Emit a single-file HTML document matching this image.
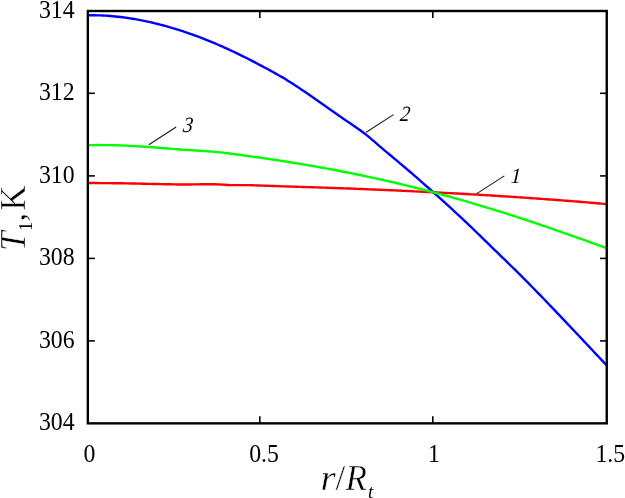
<!DOCTYPE html>
<html><head><meta charset="utf-8"><title>chart</title>
<style>
html,body{margin:0;padding:0;background:#fff;}
body{width:625px;height:498px;overflow:hidden;}
svg{display:block;will-change:transform;}
text{font-family:"Liberation Serif",serif;fill:#000;}
.it{font-style:italic;}
</style></head><body>
<svg width="625" height="498" viewBox="0 0 625 498">
<rect x="0" y="0" width="625" height="498" fill="#fff"/>
<defs><clipPath id="c"><rect x="87.85" y="11.0" width="518.9" height="412.35"/></clipPath></defs>
<g clip-path="url(#c)" fill="none" stroke-width="2.4" stroke-linejoin="round" stroke-linecap="butt">
<path d="M87.85 183.00 L90.34 183.01 L92.84 183.03 L95.33 183.04 L97.83 183.06 L100.32 183.08 L102.82 183.10 L105.31 183.11 L107.81 183.13 L110.30 183.15 L112.80 183.18 L115.29 183.20 L117.79 183.22 L120.28 183.25 L122.78 183.30 L125.27 183.35 L127.77 183.40 L130.26 183.45 L132.75 183.50 L135.25 183.55 L137.74 183.61 L140.24 183.66 L142.73 183.72 L145.23 183.77 L147.72 183.83 L150.22 183.88 L152.71 183.93 L155.21 183.98 L157.70 184.03 L160.20 184.08 L162.69 184.13 L165.19 184.19 L167.68 184.24 L170.18 184.29 L172.67 184.35 L175.16 184.40 L177.66 184.46 L180.15 184.51 L182.65 184.55 L185.14 184.51 L187.64 184.48 L190.13 184.44 L192.63 184.41 L195.12 184.38 L197.62 184.34 L200.11 184.31 L202.61 184.28 L205.10 184.25 L207.60 184.22 L210.09 184.19 L212.59 184.17 L215.08 184.21 L217.57 184.36 L220.07 184.50 L222.56 184.65 L225.06 184.80 L227.55 184.95 L230.05 185.09 L232.54 185.10 L235.04 185.11 L237.53 185.11 L240.03 185.12 L242.52 185.13 L245.02 185.14 L247.51 185.15 L250.01 185.16 L252.50 185.25 L255.00 185.34 L257.49 185.43 L259.99 185.52 L262.48 185.61 L264.97 185.70 L267.47 185.79 L269.96 185.88 L272.46 185.98 L274.95 186.07 L277.45 186.16 L279.94 186.26 L282.44 186.33 L284.93 186.40 L287.43 186.48 L289.92 186.55 L292.42 186.63 L294.91 186.70 L297.41 186.78 L299.90 186.85 L302.40 186.93 L304.89 187.01 L307.38 187.09 L309.88 187.17 L312.37 187.25 L314.87 187.33 L317.36 187.42 L319.86 187.50 L322.35 187.58 L324.85 187.67 L327.34 187.76 L329.84 187.84 L332.33 187.93 L334.83 188.02 L337.32 188.11 L339.82 188.20 L342.31 188.29 L344.81 188.38 L347.30 188.48 L349.79 188.57 L352.29 188.66 L354.78 188.76 L357.28 188.86 L359.77 188.95 L362.27 189.05 L364.76 189.15 L367.26 189.25 L369.75 189.35 L372.25 189.46 L374.74 189.56 L377.24 189.66 L379.73 189.77 L382.23 189.87 L384.72 189.98 L387.22 190.09 L389.71 190.20 L392.20 190.31 L394.70 190.42 L397.19 190.53 L399.69 190.64 L402.18 190.75 L404.68 190.87 L407.17 190.98 L409.67 191.10 L412.16 191.22 L414.66 191.34 L417.15 191.46 L419.65 191.58 L422.14 191.70 L424.64 191.82 L427.13 191.95 L429.63 192.07 L432.12 192.20 L434.61 192.32 L437.11 192.45 L439.60 192.58 L442.10 192.71 L444.59 192.84 L447.09 192.97 L449.58 193.11 L452.08 193.24 L454.57 193.38 L457.07 193.52 L459.56 193.65 L462.06 193.79 L464.55 193.93 L467.05 194.07 L469.54 194.22 L472.04 194.36 L474.53 194.51 L477.02 194.65 L479.52 194.80 L482.01 194.95 L484.51 195.10 L487.00 195.25 L489.50 195.40 L491.99 195.55 L494.49 195.71 L496.98 195.86 L499.48 196.02 L501.97 196.18 L504.47 196.34 L506.96 196.50 L509.46 196.66 L511.95 196.83 L514.45 196.99 L516.94 197.16 L519.44 197.33 L521.93 197.49 L524.42 197.66 L526.92 197.84 L529.41 198.01 L531.91 198.18 L534.40 198.36 L536.90 198.54 L539.39 198.71 L541.89 198.89 L544.38 199.08 L546.88 199.26 L549.37 199.44 L551.87 199.63 L554.36 199.81 L556.86 200.00 L559.35 200.19 L561.85 200.38 L564.34 200.58 L566.83 200.77 L569.33 200.97 L571.82 201.16 L574.32 201.36 L576.81 201.56 L579.31 201.77 L581.80 201.97 L584.30 202.17 L586.79 202.38 L589.29 202.59 L591.78 202.80 L594.28 203.01 L596.77 203.22 L599.27 203.44 L601.76 203.65 L604.26 203.87 L606.75 204.09" stroke="#ff0000"/>
<path d="M87.85 15.27 L90.34 15.25 L92.84 15.25 L95.33 15.28 L97.83 15.34 L100.32 15.42 L102.82 15.53 L105.31 15.66 L107.81 15.82 L110.30 16.01 L112.80 16.22 L115.29 16.45 L117.79 16.71 L120.28 16.99 L122.78 17.30 L125.27 17.63 L127.77 17.98 L130.26 18.36 L132.75 18.76 L135.25 19.18 L137.74 19.62 L140.24 20.09 L142.73 20.58 L145.23 21.09 L147.72 21.62 L150.22 22.18 L152.71 22.75 L155.21 23.35 L157.70 23.96 L160.20 24.60 L162.69 25.26 L165.19 25.93 L167.68 26.63 L170.18 27.35 L172.67 28.08 L175.16 28.84 L177.66 29.62 L180.15 30.41 L182.65 31.22 L185.14 32.06 L187.64 32.91 L190.13 33.78 L192.63 34.66 L195.12 35.57 L197.62 36.49 L200.11 37.43 L202.61 38.39 L205.10 39.37 L207.60 40.36 L210.09 41.38 L212.59 42.41 L215.08 43.45 L217.57 44.51 L220.07 45.59 L222.56 46.69 L225.06 47.80 L227.55 48.93 L230.05 50.08 L232.54 51.24 L235.04 52.42 L237.53 53.61 L240.03 54.82 L242.52 56.05 L245.02 57.29 L247.51 58.55 L250.01 59.82 L252.50 61.11 L255.00 62.41 L257.49 63.73 L259.99 65.07 L262.48 66.38 L264.97 67.70 L267.47 69.04 L269.96 70.40 L272.46 71.76 L274.95 73.15 L277.45 74.55 L279.94 75.96 L282.44 77.39 L284.93 78.83 L287.43 80.40 L289.92 81.98 L292.42 83.59 L294.91 85.20 L297.41 86.83 L299.90 88.47 L302.40 90.13 L304.89 91.80 L307.38 93.49 L309.88 95.18 L312.37 96.93 L314.87 98.72 L317.36 100.52 L319.86 102.33 L322.35 104.04 L324.85 105.76 L327.34 107.49 L329.84 109.23 L332.33 110.98 L334.83 112.75 L337.32 114.53 L339.82 116.33 L342.31 118.01 L344.81 119.69 L347.30 121.38 L349.79 123.09 L352.29 124.80 L354.78 126.52 L357.28 128.25 L359.77 130.02 L362.27 131.81 L364.76 133.67 L367.26 135.65 L369.75 137.65 L372.25 139.79 L374.74 141.95 L377.24 144.12 L379.73 146.29 L382.23 148.47 L384.72 150.62 L387.22 152.66 L389.71 154.71 L392.20 156.78 L394.70 158.86 L397.19 160.95 L399.69 163.05 L402.18 165.15 L404.68 167.25 L407.17 169.37 L409.67 171.51 L412.16 173.65 L414.66 175.80 L417.15 177.97 L419.65 180.14 L422.14 182.33 L424.64 184.53 L427.13 186.73 L429.63 188.95 L432.12 191.18 L434.61 193.43 L437.11 195.65 L439.60 197.89 L442.10 200.14 L444.59 202.39 L447.09 204.66 L449.58 206.93 L452.08 209.22 L454.57 211.52 L457.07 213.82 L459.56 216.14 L462.06 218.48 L464.55 220.84 L467.05 223.20 L469.54 225.58 L472.04 227.96 L474.53 230.36 L477.02 232.76 L479.52 235.17 L482.01 237.59 L484.51 240.02 L487.00 242.46 L489.50 244.90 L491.99 247.36 L494.49 249.82 L496.98 252.23 L499.48 254.63 L501.97 257.03 L504.47 259.45 L506.96 261.87 L509.46 264.30 L511.95 266.74 L514.45 269.18 L516.94 271.63 L519.44 274.09 L521.93 276.60 L524.42 279.12 L526.92 281.64 L529.41 284.18 L531.91 286.72 L534.40 289.26 L536.90 291.82 L539.39 294.37 L541.89 296.94 L544.38 299.50 L546.88 302.10 L549.37 304.71 L551.87 307.32 L554.36 309.93 L556.86 312.55 L559.35 315.18 L561.85 317.81 L564.34 320.44 L566.83 323.07 L569.33 325.71 L571.82 328.35 L574.32 330.99 L576.81 333.64 L579.31 336.29 L581.80 338.94 L584.30 341.59 L586.79 344.24 L589.29 346.90 L591.78 349.55 L594.28 352.21 L596.77 354.86 L599.27 357.52 L601.76 360.18 L604.26 362.83 L606.75 365.49" stroke="#0000ff"/>
<path d="M87.85 145.14 L90.34 145.11 L92.84 145.09 L95.33 145.08 L97.83 145.07 L100.32 145.07 L102.82 145.08 L105.31 145.10 L107.81 145.13 L110.30 145.16 L112.80 145.21 L115.29 145.25 L117.79 145.31 L120.28 145.38 L122.78 145.49 L125.27 145.61 L127.77 145.74 L130.26 145.87 L132.75 146.01 L135.25 146.15 L137.74 146.30 L140.24 146.46 L142.73 146.63 L145.23 146.80 L147.72 146.97 L150.22 147.15 L152.71 147.32 L155.21 147.50 L157.70 147.68 L160.20 147.87 L162.69 148.06 L165.19 148.26 L167.68 148.46 L170.18 148.67 L172.67 148.88 L175.16 149.10 L177.66 149.32 L180.15 149.55 L182.65 149.76 L185.14 149.89 L187.64 150.02 L190.13 150.16 L192.63 150.30 L195.12 150.45 L197.62 150.61 L200.11 150.76 L202.61 150.93 L205.10 151.09 L207.60 151.26 L210.09 151.44 L212.59 151.62 L215.08 151.84 L217.57 152.12 L220.07 152.40 L222.56 152.68 L225.06 152.97 L227.55 153.26 L230.05 153.55 L232.54 153.88 L235.04 154.21 L237.53 154.54 L240.03 154.88 L242.52 155.22 L245.02 155.57 L247.51 155.92 L250.01 156.27 L252.50 156.61 L255.00 156.96 L257.49 157.31 L259.99 157.66 L262.48 158.02 L264.97 158.39 L267.47 158.75 L269.96 159.12 L272.46 159.50 L274.95 159.88 L277.45 160.26 L279.94 160.64 L282.44 161.03 L284.93 161.41 L287.43 161.80 L289.92 162.20 L292.42 162.60 L294.91 163.00 L297.41 163.41 L299.90 163.82 L302.40 164.24 L304.89 164.66 L307.38 165.08 L309.88 165.51 L312.37 165.94 L314.87 166.38 L317.36 166.82 L319.86 167.26 L322.35 167.71 L324.85 168.17 L327.34 168.62 L329.84 169.09 L332.33 169.55 L334.83 170.02 L337.32 170.50 L339.82 170.98 L342.31 171.46 L344.81 171.95 L347.30 172.45 L349.79 172.94 L352.29 173.44 L354.78 173.95 L357.28 174.46 L359.77 174.98 L362.27 175.50 L364.76 176.02 L367.26 176.55 L369.75 177.09 L372.25 177.62 L374.74 178.17 L377.24 178.71 L379.73 179.27 L382.23 179.82 L384.72 180.39 L387.22 180.95 L389.71 181.52 L392.20 182.10 L394.70 182.68 L397.19 183.26 L399.69 183.85 L402.18 184.45 L404.68 185.05 L407.17 185.65 L409.67 186.26 L412.16 186.88 L414.66 187.50 L417.15 188.12 L419.65 188.75 L422.14 189.38 L424.64 190.02 L427.13 190.66 L429.63 191.31 L432.12 191.96 L434.61 192.62 L437.11 193.28 L439.60 193.95 L442.10 194.62 L444.59 195.30 L447.09 195.98 L449.58 196.67 L452.08 197.36 L454.57 198.06 L457.07 198.76 L459.56 199.47 L462.06 200.18 L464.55 200.89 L467.05 201.61 L469.54 202.34 L472.04 203.07 L474.53 203.80 L477.02 204.54 L479.52 205.28 L482.01 206.03 L484.51 206.79 L487.00 207.54 L489.50 208.30 L491.99 209.07 L494.49 209.84 L496.98 210.62 L499.48 211.40 L501.97 212.18 L504.47 212.97 L506.96 213.76 L509.46 214.56 L511.95 215.36 L514.45 216.17 L516.94 216.97 L519.44 217.79 L521.93 218.60 L524.42 219.43 L526.92 220.25 L529.41 221.08 L531.91 221.91 L534.40 222.75 L536.90 223.59 L539.39 224.43 L541.89 225.28 L544.38 226.13 L546.88 226.98 L549.37 227.84 L551.87 228.69 L554.36 229.56 L556.86 230.42 L559.35 231.29 L561.85 232.16 L564.34 233.03 L566.83 233.91 L569.33 234.79 L571.82 235.67 L574.32 236.55 L576.81 237.44 L579.31 238.32 L581.80 239.21 L584.30 240.10 L586.79 240.99 L589.29 241.89 L591.78 242.78 L594.28 243.68 L596.77 244.57 L599.27 245.47 L601.76 246.37 L604.26 247.27 L606.75 248.17" stroke="#00ff00"/>
</g>
<g stroke="#000" stroke-width="1.6"><line x1="259.85" y1="423.35" x2="259.85" y2="416.25"/><line x1="259.85" y1="11.00" x2="259.85" y2="18.00"/><line x1="432.80" y1="423.35" x2="432.80" y2="416.25"/><line x1="432.80" y1="11.00" x2="432.80" y2="18.00"/><line x1="87.85" y1="93.30" x2="94.85" y2="93.30"/><line x1="606.75" y1="93.30" x2="600.05" y2="93.30"/><line x1="87.85" y1="175.90" x2="94.85" y2="175.90"/><line x1="606.75" y1="175.90" x2="600.05" y2="175.90"/><line x1="87.85" y1="258.40" x2="94.85" y2="258.40"/><line x1="606.75" y1="258.40" x2="600.05" y2="258.40"/><line x1="87.85" y1="340.90" x2="94.85" y2="340.90"/><line x1="606.75" y1="340.90" x2="600.05" y2="340.90"/></g>
<rect x="87.85" y="11.0" width="518.9" height="412.35" fill="none" stroke="#000" stroke-width="2.4"/>
<g stroke="#1a1a1a" stroke-width="1.1" stroke-linecap="round">
<line x1="149.2" y1="144.5" x2="175.8" y2="127.2"/>
<line x1="366.2" y1="132.2" x2="393.1" y2="114.9"/>
<line x1="476.8" y1="193.6" x2="503.9" y2="176.1"/>
</g>
<g class="it" font-size="21.8">
<text transform="translate(182.4 132.0) skewX(-7) scale(0.9 1)">3</text>
<text transform="translate(399.6 121.0) skewX(-7) scale(0.9 1)">2</text>
<text transform="translate(510.6 182.7) skewX(-3) scale(0.95 1)">1</text>
</g>
<g><text transform="translate(74.6 17.90) scale(0.915 1)" text-anchor="end" font-size="26.0">314</text><text transform="translate(74.6 100.20) scale(0.915 1)" text-anchor="end" font-size="26.0">312</text><text transform="translate(74.6 182.80) scale(0.915 1)" text-anchor="end" font-size="26.0">310</text><text transform="translate(74.6 265.30) scale(0.915 1)" text-anchor="end" font-size="26.0">308</text><text transform="translate(74.6 347.80) scale(0.915 1)" text-anchor="end" font-size="26.0">306</text><text transform="translate(74.6 430.25) scale(0.915 1)" text-anchor="end" font-size="26.0">304</text></g>
<g><text transform="translate(89.35 462.2) scale(0.915 1)" text-anchor="middle" font-size="26.0">0</text><text transform="translate(264.00 462.2) scale(0.915 1)" text-anchor="middle" font-size="26.0">0.5</text><text transform="translate(434.00 462.2) scale(0.915 1)" text-anchor="middle" font-size="26.0">1</text><text transform="translate(610.30 462.2) scale(0.915 1)" text-anchor="middle" font-size="26.0">1.5</text></g>
<g transform="translate(24.9 0) rotate(-90)" font-size="35" stroke="#fff" stroke-width="0.45">
<text x="-251.05" y="0" class="it">T</text>
<text x="-230.95" y="7.2" font-size="18.6" stroke="none">1</text>
<text x="-221.5" y="0">,</text>
<text x="-210.64" y="0">K</text>
</g>
<g font-size="35" stroke="#fff" stroke-width="0.45">
<text transform="translate(320.6 489.7) scale(1.12 1)" class="it">r</text>
<text x="335.6" y="489.7">/</text>
<text x="345.6" y="489.7" class="it">R</text>
<text x="368.0" y="498.0" font-size="19" class="it" stroke="none">t</text>
</g>
</svg>
</body></html>
